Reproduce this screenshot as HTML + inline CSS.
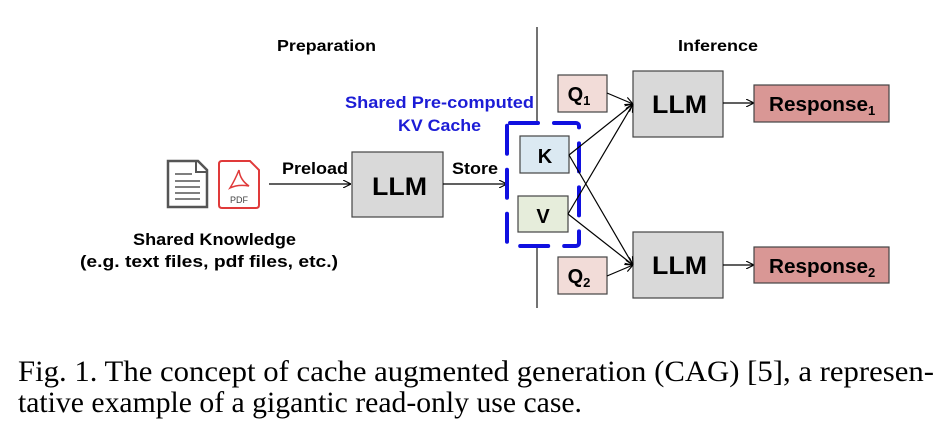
<!DOCTYPE html>
<html><head><meta charset="utf-8"><style>
html,body{margin:0;padding:0;background:#fff;}
svg{display:block;}
.s{font-family:"Liberation Sans","DejaVu Sans",sans-serif;font-weight:bold;}
</style></head><body>
<svg width="950" height="430" viewBox="0 0 950 430" xmlns="http://www.w3.org/2000/svg">
<defs>
<marker id="a" viewBox="0 0 10 10" refX="10" refY="5" markerWidth="8" markerHeight="8" orient="auto" markerUnits="userSpaceOnUse">
<path d="M0,0 L10,5 L0,10" fill="none" stroke="#000" stroke-width="1.4"/>
</marker>
</defs>
<g class="s" fill="#000">
<text x="277" y="51" font-size="16" textLength="99" lengthAdjust="spacingAndGlyphs">Preparation</text>
<text x="678" y="51" font-size="16" textLength="80" lengthAdjust="spacingAndGlyphs">Inference</text>
<text x="345" y="108" font-size="17" textLength="189" lengthAdjust="spacingAndGlyphs" fill="#1c1cd6">Shared Pre-computed</text>
<text x="398" y="131" font-size="17" textLength="83" lengthAdjust="spacingAndGlyphs" fill="#1c1cd6">KV Cache</text>
<text x="282" y="174" font-size="17" textLength="66" lengthAdjust="spacingAndGlyphs">Preload</text>
<text x="452" y="174" font-size="17" textLength="46" lengthAdjust="spacingAndGlyphs">Store</text>
<text x="133" y="245" font-size="17" textLength="163" lengthAdjust="spacingAndGlyphs">Shared Knowledge</text>
<text x="80" y="267" font-size="17" textLength="258" lengthAdjust="spacingAndGlyphs">(e.g. text files, pdf files, etc.)</text>
</g>
<line x1="537" y1="27" x2="537" y2="121" stroke="#444" stroke-width="1.5"/>
<line x1="537" y1="247" x2="537" y2="308" stroke="#444" stroke-width="1.5"/>
<path d="M168,161 L198,161 L207,170 L207,207 L168,207 Z" fill="#fff" stroke="#555" stroke-width="2.5"/>
<path d="M196,161 L196,172 L207,172" fill="none" stroke="#555" stroke-width="2"/>
<g stroke="#555" stroke-width="1.5"><line x1="175" y1="174" x2="192" y2="174"/><line x1="175" y1="181" x2="200" y2="181"/><line x1="175" y1="187" x2="200" y2="187"/><line x1="175" y1="193" x2="200" y2="193"/><line x1="175" y1="199" x2="200" y2="199"/></g>
<path d="M222,161 L250,161 L259,170 L259,205 Q259,208 256,208 L222,208 Q219,208 219,205 L219,164 Q219,161 222,161 Z" fill="#fff" stroke="#e03a3a" stroke-width="2"/>
<path d="M239,170 Q235,180 230,188 Q238,184 249,186 Q240,180 239,170" fill="none" stroke="#e03a3a" stroke-width="1.5"/>
<text x="239" y="203" font-family="Liberation Sans,sans-serif" font-size="9" fill="#444" text-anchor="middle">PDF</text>
<rect x="352" y="152" width="91" height="65" fill="#d9d9d9" stroke="#444" stroke-width="1.2"/>
<text x="372" y="195" class="s" font-size="25" textLength="55" lengthAdjust="spacingAndGlyphs">LLM</text>
<line x1="269" y1="184" x2="351" y2="184" stroke="#000" stroke-width="1.2" marker-end="url(#a)"/>
<line x1="443" y1="184" x2="507" y2="184" stroke="#000" stroke-width="1.2" marker-end="url(#a)"/>
<rect x="507" y="123" width="72" height="123" rx="3" fill="none" stroke="#1010e0" stroke-width="4" stroke-dasharray="28 16" stroke-linecap="round"/>
<rect x="520" y="136" width="49" height="37" fill="#dbe9f2" stroke="#444" stroke-width="1.2"/>
<text x="545" y="163" class="s" font-size="20" text-anchor="middle">K</text>
<rect x="518" y="196" width="50" height="36" fill="#e6eddb" stroke="#444" stroke-width="1.2"/>
<text x="543" y="223" class="s" font-size="20" text-anchor="middle">V</text>
<rect x="558" y="75" width="49" height="37" fill="#f2dcd8" stroke="#444" stroke-width="1.2"/>
<text x="579" y="101" class="s" font-size="20" text-anchor="middle">Q<tspan font-size="13" dy="4">1</tspan></text>
<rect x="558" y="257" width="49" height="37" fill="#f2dcd8" stroke="#444" stroke-width="1.2"/>
<text x="579" y="283" class="s" font-size="20" text-anchor="middle">Q<tspan font-size="13" dy="4">2</tspan></text>
<rect x="633" y="71" width="90" height="66" fill="#d9d9d9" stroke="#444" stroke-width="1.2"/>
<text x="652" y="113" class="s" font-size="25" textLength="55" lengthAdjust="spacingAndGlyphs">LLM</text>
<rect x="633" y="232" width="90" height="66" fill="#d9d9d9" stroke="#444" stroke-width="1.2"/>
<text x="652" y="274" class="s" font-size="25" textLength="55" lengthAdjust="spacingAndGlyphs">LLM</text>
<g stroke="#000" stroke-width="1.2" marker-end="url(#a)">
<line x1="607" y1="93" x2="633" y2="104"/>
<line x1="569" y1="155" x2="633" y2="104"/>
<line x1="568" y1="214" x2="633" y2="104"/>
<line x1="569" y1="155" x2="633" y2="265"/>
<line x1="568" y1="214" x2="633" y2="265"/>
<line x1="607" y1="276" x2="633" y2="265"/>
<line x1="723" y1="103" x2="754" y2="103"/>
<line x1="723" y1="265" x2="754" y2="265"/>
</g>
<rect x="754" y="85" width="135" height="37" fill="#d99795" stroke="#444" stroke-width="1.2"/>
<text x="769" y="111" class="s" font-size="20" textLength="99" lengthAdjust="spacingAndGlyphs">Response</text><text x="868" y="115" class="s" font-size="13">1</text>
<rect x="754" y="247" width="135" height="36" fill="#d99795" stroke="#444" stroke-width="1.2"/>
<text x="769" y="273" class="s" font-size="20" textLength="99" lengthAdjust="spacingAndGlyphs">Response</text><text x="868" y="277" class="s" font-size="13">2</text>
<text x="18" y="381" font-family="Liberation Serif,serif" font-size="30" textLength="916" lengthAdjust="spacingAndGlyphs">Fig. 1.  The concept of cache augmented generation (CAG) [5], a represen-</text>
<text x="18" y="412" font-family="Liberation Serif,serif" font-size="30" textLength="564" lengthAdjust="spacingAndGlyphs">tative example of a gigantic read-only use case.</text>
</svg>
</body></html>
